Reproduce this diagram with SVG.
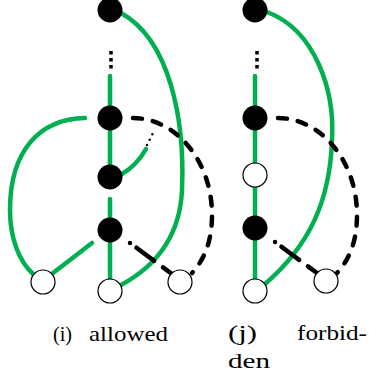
<svg xmlns="http://www.w3.org/2000/svg" width="369" height="380" viewBox="0 0 369 380">
<style>
.g{fill:none;stroke:#00B050;stroke-width:4.5;stroke-linecap:round}
.d{fill:none;stroke:#000;stroke-width:4.5;stroke-linecap:round;stroke-dasharray:9 11}
.dd{fill:none;stroke:#000;stroke-width:4.5;stroke-linecap:round;stroke-dasharray:0 8 22 11 30}
.dt{fill:none;stroke:#000;stroke-width:3.5;stroke-dasharray:3.5 3.5}
.dt2{fill:none;stroke:#000;stroke-width:2.5;stroke-linecap:round;stroke-dasharray:0 6}
.b{fill:#000}
.w{fill:#fff;stroke:#000;stroke-width:1.2}
</style>
<g id="connectors">
<line class="dt" x1="111" y1="51" x2="111" y2="69"/>
<line class="g" x1="110" y1="76" x2="110" y2="118"/>
<line class="g" x1="110" y1="118" x2="110" y2="177"/>
<line class="g" x1="110" y1="199" x2="110" y2="291"/>
<path class="g" d="M121,13 C170,40 185,120 182,190 C180,235 158,265 121,285"/>
<path class="g" d="M85,118 C40,119 10,150 10,210 C10,240 20,262 33,274"/>
<line class="g" x1="53" y1="273" x2="92" y2="243"/>
<path class="g" d="M122,174 Q137,165 146,149"/>
<path class="dt2" d="M147,145 L154,131"/>
<path class="d" d="M133,118 C175,118 212,160 212,215 C212,245 202,262 192,273"/>
<path class="dd" d="M130,243 L172,274"/>
<line class="dt" x1="257" y1="51" x2="257" y2="69"/>
<line class="g" x1="255" y1="76" x2="255" y2="291"/>
<path class="g" d="M267,12 C315,30 335,90 332,140 C330,200 310,245 265,284"/>
<path class="d" d="M278,118 C320,118 357,160 357,215 C357,245 347,262 337,273"/>
<path class="dd" d="M275,242 L317,273"/>
</g>
<g id="n1"><circle class="b" cx="110" cy="10" r="12.5"/></g>
<g id="n2"><circle class="b" cx="110" cy="118" r="12.5"/></g>
<g id="n3"><circle class="b" cx="110" cy="177" r="12.5"/></g>
<g id="n4"><circle class="b" cx="110" cy="230" r="12.5"/></g>
<g id="n5"><circle class="w" cx="43" cy="282" r="12"/></g>
<g id="n6"><circle class="w" cx="110" cy="291" r="12"/></g>
<g id="n7"><circle class="w" cx="180" cy="282" r="12"/></g>
<g id="m1"><circle class="b" cx="255" cy="10" r="12.5"/></g>
<g id="m2"><circle class="b" cx="255" cy="118" r="12.5"/></g>
<g id="m3"><circle class="w" cx="255" cy="175" r="12"/></g>
<g id="m4"><circle class="b" cx="255" cy="228" r="12.5"/></g>
<g id="m5"><circle class="w" cx="255" cy="291" r="12"/></g>
<g id="m6"><circle class="w" cx="326" cy="281" r="12"/></g>
<g id="labels" font-family="Liberation Serif, Times New Roman, serif" font-size="22" fill="#000">
<text x="53" y="341" textLength="19" lengthAdjust="spacingAndGlyphs">(i)</text>
<text x="89" y="341" textLength="79" lengthAdjust="spacingAndGlyphs">allowed</text>
<text x="228" y="340" textLength="29" lengthAdjust="spacingAndGlyphs">(j)</text>
<text x="297" y="340" textLength="70" lengthAdjust="spacingAndGlyphs">forbid-</text>
<text x="228" y="368" textLength="42" lengthAdjust="spacingAndGlyphs">den</text>
</g>
</svg>
